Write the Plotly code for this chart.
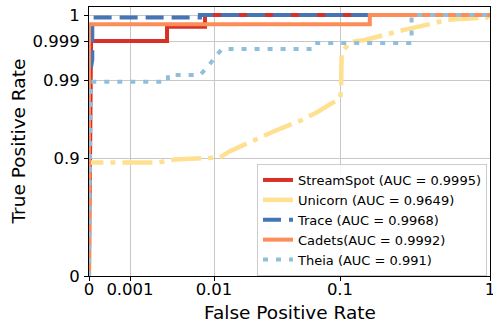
import numpy as np
import plotly.graph_objects as go

# ---------------- data ----------------
x_tick_vals = [0, 0.001, 0.01, 0.1, 1]
x_tick_text = ["0", "0.001", "0.01", "0.1", "1"]
y_tick_vals = [0, 0.9, 0.99, 0.999, 1]
y_tick_text = ["0", "0.9", "0.99", "0.999", "1"]

streamspot_fpr = [0, 0.00003, 0.00005, 0.00276, 0.00276, 0.00781, 0.00781, 1]
streamspot_tpr = [0, 0.998, 0.999, 0.999, 0.99955, 0.99955, 1, 1]

unicorn_fpr = [0, 0, 0.00007, 0.0022, 0.0034, 0.0072, 0.0112, 0.01315, 0.02235,
               0.02937, 0.0499, 0.0668, 0.1, 0.1016, 0.1025, 0.1166, 0.1468,
               0.2154, 0.263, 0.398, 0.517, 0.955, 1]
unicorn_tpr = [0, 0.891, 0.891, 0.891, 0.897, 0.8985, 0.902, 0.917, 0.944,
               0.954, 0.9674, 0.9745, 0.9829, 0.986, 0.998, 0.99894, 0.99904,
               0.9993, 0.99942, 0.99965, 0.99981, 0.9999, 1]

trace_fpr = [0, 0, 0.00008, 0.00008, 0.0068, 0.0068, 1]
trace_tpr = [0, 0.99, 0.997, 0.9999, 0.9999, 1, 1]

cadets_fpr = [0, 0, 0.158, 0.158, 1]
cadets_tpr = [0, 0.99964, 0.99964, 1, 1]

theia_fpr = [0, 0.00004, 0.00283, 0.00283, 0.0068, 0.0085, 0.0105, 0.0116,
             0.061, 0.063, 0.30, 0.30, 1]
theia_tpr = [0, 0.9895, 0.9895, 0.99255, 0.99255, 0.9955, 0.9977, 0.9984,
             0.9984, 0.99887, 0.99887, 1, 1]

series_names = ["StreamSpot (AUC = 0.9995)", "Unicorn (AUC = 0.9649)",
                "Trace (AUC = 0.9968)", "Cadets(AUC = 0.9992)", "Theia (AUC = 0.991)"]

# ---------------- custom axis scales ----------------
# x: linear on [0, 0.001], logarithmic above; y: same on 1 - tpr
X_POS = [0, 41, 125, 251, 401]
Y_POS = [261, 235, 196, 118, 0]   # for 1-y = 0, 0.001, 0.01, 0.1, 1


def tx(v):
    v = np.asarray(v, dtype=float)
    return np.where(v <= 0.001, X_POS[1] * v / 0.001,
                    np.interp(np.log10(np.maximum(v, 1e-12)), [-3, -2, -1, 0], X_POS[1:]))


def ty(v):
    u = 1 - np.asarray(v, dtype=float)
    return np.where(u <= 0.001, Y_POS[0] - (Y_POS[0] - Y_POS[1]) * u / 0.001,
                    np.interp(np.log10(np.maximum(u, 1e-12)), [-3, -2, -1, 0], Y_POS[1:]))


FONT = "DejaVu Sans"
fig = go.Figure()

styles = [
    dict(color="#d73027", width=4, dash="solid"),
    dict(color="#fee090", width=4.5, dash="30px,7px,5px,7px"),
    dict(color="#4575b4", width=4, dash="18px,8px"),
    dict(color="#fc8d59", width=4, dash="solid"),
    dict(color="#91bfdb", width=4, dash="5px,8px"),
]
data = [(streamspot_fpr, streamspot_tpr), (unicorn_fpr, unicorn_tpr),
        (trace_fpr, trace_tpr), (cadets_fpr, cadets_tpr), (theia_fpr, theia_tpr)]

for (fx, fy), name, st in zip(data, series_names, styles):
    fig.add_trace(go.Scatter(x=tx(fx), y=ty(fy), mode="lines", name=name, line=st))

fig.update_layout(
    width=493, height=326,
    margin=dict(l=89, r=3, t=7, b=50, autoexpand=False),
    plot_bgcolor="white", paper_bgcolor="white",
    font=dict(family=FONT, color="black"),
    showlegend=True,
    legend=dict(x=0.9925, y=0.0, xanchor="right", yanchor="bottom",
                bgcolor="rgba(255,255,255,0.85)", bordercolor="#cccccc",
                borderwidth=1, font=dict(size=13, family=FONT)),
    annotations=[
        dict(text="False Positive Rate", xref="paper", yref="paper",
             x=0.5, y=-(313 - 276) / 269, xanchor="center", yanchor="middle",
             showarrow=False, font=dict(size=18.5, family=FONT)),
        dict(text="True Positive Rate", xref="paper", yref="paper",
             x=-(89 - 18) / 401, y=0.5, xanchor="center", yanchor="middle",
             textangle=-90, showarrow=False, font=dict(size=18.5, family=FONT)),
    ],
)
fig.update_xaxes(range=[0, 401], tickmode="array", tickvals=tx(x_tick_vals).tolist(),
                 ticktext=x_tick_text, tickfont=dict(size=16.5), automargin=False,
                 showgrid=True, gridcolor="#c8c8c8", gridwidth=1, zeroline=False,
                 showline=True, linecolor="black", linewidth=1, mirror=True,
                 ticks="outside", ticklen=4, tickcolor="black", ticklabelstandoff=-6,
                 ticklabeloverflow="allow")
fig.update_yaxes(range=[0, 269], tickmode="array", tickvals=ty(y_tick_vals).tolist(),
                 ticktext=y_tick_text, tickfont=dict(size=16.5), automargin=False,
                 showgrid=True, gridcolor="#c8c8c8", gridwidth=1, zeroline=False,
                 showline=True, linecolor="black", linewidth=1, mirror=True,
                 ticks="outside", ticklen=4, tickcolor="black", ticklabelstandoff=1,
                 ticklabeloverflow="allow")

fig.write_html("out.html", config={"displayModeBar": False},
               post_script="document.body.style.margin='0';document.body.style.overflow='hidden';")
